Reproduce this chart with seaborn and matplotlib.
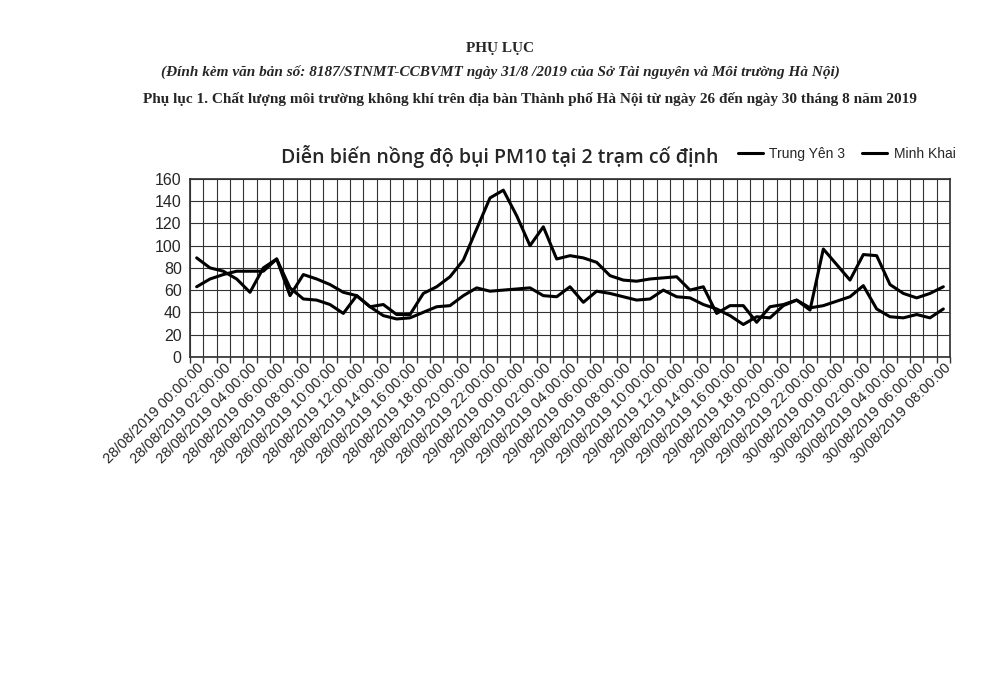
import matplotlib
matplotlib.use("Agg")
import matplotlib.pyplot as plt
import seaborn as sns
import pandas as pd
import numpy as np

hours = [f"28/08/2019 {h:02d}:00:00" for h in range(24)] + \
        [f"29/08/2019 {h:02d}:00:00" for h in range(24)] + \
        [f"30/08/2019 {h:02d}:00:00" for h in range(9)]

series_a = [89, 80, 77, 70, 58, 80, 88, 55, 74, 70, 65, 58, 55, 45, 47, 38, 38, 57, 63, 72,
            87, 115, 143, 150, 127, 100, 117, 88, 91, 89, 85, 73, 69, 68, 70, 71, 72, 60, 63,
            39, 46, 46, 31, 45, 47, 51, 42, 97, 83, 69, 92, 91, 65, 57, 53, 57, 63]
series_b = [63, 70, 74, 77, 77, 77, 88, 62, 52, 51, 47, 39, 55, 45, 37, 34, 35, 40, 45, 46,
            55, 62, 59, 60, 61, 62, 55, 54, 63, 49, 59, 57, 54, 51, 52, 60, 54, 53, 47,
            43, 37, 29, 36, 35, 46, 51, 44, 46, 50, 54, 64, 43, 36, 35, 38, 35, 43]
names = ["Trung Yên 3", "Minh Khai"]

n = len(hours)
df = pd.DataFrame({"x": list(range(n)) * 2,
                   "val": series_a + series_b,
                   "tram": [names[0]] * n + [names[1]] * n})

sns.set_theme(style="white")
plt.rcParams['font.family'] = ['Liberation Sans', 'DejaVu Sans']

fig = plt.figure(figsize=(10, 6.86), dpi=100)
ax = fig.add_axes([0.19, 0.48, 0.76, 0.259])
sns.lineplot(data=df, x="x", y="val", hue="tram", palette=["black", "black"],
             linewidth=2.2, ax=ax, legend=False)

ax.set_xlim(-0.45, n - 0.55)
ax.set_ylim(0, 160)
ax.set_yticks(range(0, 161, 20))
ax.set_xticks(range(0, n, 2))
ax.set_xticklabels(hours[::2], rotation=45, ha="right", rotation_mode="anchor", fontsize=10.5)
ax.set_xticks([k - 0.5 for k in range(n + 1)], minor=True)
ax.grid(True, which="minor", axis="x", color="#333333", linewidth=0.8)
ax.grid(True, which="major", axis="y", color="#333333", linewidth=0.8)
ax.tick_params(axis="y", labelsize=11.5, length=0, pad=6)
ax.tick_params(axis="x", which="major", length=0, pad=3)
ax.tick_params(axis="x", which="minor", length=4, color="#333333", bottom=True)
for s in ax.spines.values():
    s.set_color("#333333")
ax.set_xlabel("")
ax.set_ylabel("")

fig.text(0.5, 0.93, "PHỤ LỤC", ha="center", va="center", family="Liberation Serif",
         fontweight="bold", fontsize=11)
fig.text(0.5, 0.895, "(Đính kèm văn bản số: 8187/STNMT-CCBVMT ngày 31/8 /2019 của Sở Tài nguyên và Môi trường Hà Nội)",
         ha="center", va="center", family="Liberation Serif", fontweight="bold",
         style="italic", fontsize=11)
fig.text(0.53, 0.856, "Phụ lục 1. Chất lượng môi trường không khí trên địa bàn Thành phố Hà Nội từ ngày 26 đến ngày 30 tháng 8 năm 2019",
         ha="center", va="center", family="Liberation Serif", fontweight="bold", fontsize=11)
fig.text(0.5, 0.772, "Diễn biến nồng độ bụi PM10 tại 2 trạm cố định", ha="center", va="center",
         family="Open Sans", fontsize=14, fontweight="semibold")

from matplotlib.lines import Line2D
handles = [Line2D([], [], color="black", linewidth=2.2) for _ in names]
fig.legend(handles, names, loc="center left", bbox_to_anchor=(0.725, 0.776), ncol=2,
           frameon=False, fontsize=10, handlelength=1.8, columnspacing=1.2, handletextpad=0.5)

fig.savefig("out.png", dpi=100, facecolor="white")
